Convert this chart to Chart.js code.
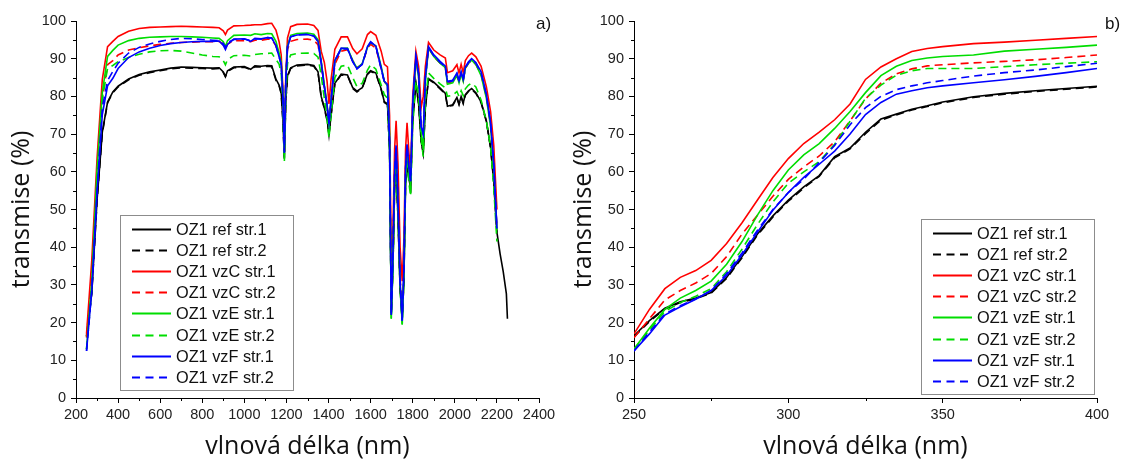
<!DOCTYPE html>
<html lang="cs">
<head>
<meta charset="UTF-8">
<title>Transmise OZ1</title>
<script src="https://cdn.jsdelivr.net/npm/chart.js"></script>
<style>
  html, body { margin: 0; padding: 0; background: #fff; }
  #wrap { position: relative; width: 1124px; height: 463px; overflow: hidden; }
  #wrap canvas { position: absolute; top: 0; }
</style>
</head>
<body>
<div id="wrap">
  <canvas id="chartA" width="562" height="463" style="left:0"></canvas>
  <canvas id="chartB" width="562" height="463" style="left:562px"></canvas>
</div>
<script>
// series labels and styles (same order for both panels)
const seriesNames = ['OZ1 ref str.1', 'OZ1 ref str.2', 'OZ1 vzC str.1', 'OZ1 vzC str.2',
                     'OZ1 vzE str.1', 'OZ1 vzE str.2', 'OZ1 vzF str.1', 'OZ1 vzF str.2'];
const seriesColors = ['#000000', '#000000', '#ff0000', '#ff0000', '#00dd00', '#00dd00', '#0000ff', '#0000ff'];
const seriesDashed = [false, true, false, true, false, true, false, true];

// ---- panel a) : 250-2250 nm ----
const wlA = [250, 275, 300, 325, 350, 375, 400, 450, 500, 550,
  600, 650, 700, 750, 800, 850, 880, 900, 910, 920,
  950, 1000, 1030, 1050, 1080, 1110, 1130, 1150, 1165, 1175,
  1183, 1190, 1197, 1205, 1220, 1250, 1300, 1330, 1350, 1365,
  1380, 1393, 1402, 1412, 1430, 1460, 1490, 1515, 1535, 1560,
  1585, 1600, 1625, 1650, 1665, 1680, 1690, 1698, 1706, 1714,
  1721, 1730, 1740, 1750, 1758, 1766, 1773, 1782, 1790, 1800,
  1815, 1828, 1840, 1850, 1860, 1875, 1900, 1930, 1955, 1965,
  1990, 2010, 2020, 2030, 2040, 2050, 2065, 2080, 2100, 2125,
  2150, 2170, 2185, 2200, 2215, 2230, 2245, 2250];

const refStr1A = [16.5, 28.0, 52.5, 70.5, 78.5, 81.2, 82.7, 84.6, 85.8, 86.5,
  87.0, 87.5, 87.8, 87.7, 87.6, 87.5, 87.6, 86.5, 85.3, 86.8,
  87.8, 87.9, 87.2, 88.1, 88.0, 88.2, 88.1, 84.6, 83.0, 81.0,
  74.0, 63.5, 79.0, 85.5, 87.6, 88.3, 88.5, 88.2, 86.5, 80.0,
  77.0, 74.0, 69.8, 75.0, 83.5, 85.9, 85.7, 82.3, 81.4, 82.3,
  86.0, 86.8, 86.2, 82.0, 78.6, 78.0, 66.0, 22.5, 35.0, 56.0,
  61.0, 48.0, 29.0, 21.0, 31.0, 57.0, 62.0, 58.0, 56.0, 74.0,
  83.5, 78.0, 68.0, 65.0, 77.0, 84.7, 83.8, 82.2, 80.8, 77.4,
  77.8, 79.7, 78.0, 80.0, 78.3, 80.5, 81.5, 82.1, 81.0, 78.5,
  73.5, 66.5, 57.5, 44.0, 38.3, 33.5, 27.6, 21.0];

const refStr2A = [16.3, 27.8, 52.2, 70.2, 78.3, 81.0, 82.5, 84.4, 85.6, 86.3,
  86.8, 87.3, 87.6, 87.5, 87.4, 87.3, 87.4, 86.3, 85.2, 86.6,
  87.6, 87.7, 87.1, 87.9, 87.8, 88.0, 87.9, 84.3, 82.8, 80.7,
  73.5, 63.8, 79.0, 85.2, 87.4, 88.1, 88.3, 88.0, 86.3, 79.8,
  76.8, 73.6, 70.0, 75.0, 83.3, 85.7, 85.5, 82.1, 81.2, 82.2,
  85.8, 86.6, 86.0, 81.8, 78.4, 77.8, 66.0, 22.0, 35.0, 56.0,
  61.0, 48.0, 29.0, 21.0, 31.0, 57.0, 62.0, 58.0, 56.0, 74.0,
  83.3, 78.0, 68.0, 65.0, 77.0, 84.5, 83.6, 82.0, 80.6, 77.3,
  77.6, 79.5, 77.8, 79.8, 78.1, 80.3, 81.3, 81.9, 80.8, 78.3,
  73.3, 66.3, 57.3, 43.8, null, null, null, null];

const vzCStr1A = [17.0, 36.5, 63.5, 84.5, 93.2, 94.6, 95.9, 97.3, 98.0, 98.3,
  98.4, 98.5, 98.6, 98.5, 98.4, 98.3, 98.2, 97.4, 96.4, 97.6,
  98.7, 98.8, 98.9, 99.0, 99.0, 99.3, 99.4, 97.6, 94.5, 91.0,
  82.0, 66.5, 86.0, 95.5, 98.5, 99.1, 99.2, 98.8, 97.5, 92.0,
  89.0, 84.0, 78.0, 84.5, 92.5, 95.8, 95.8, 92.7, 91.3, 92.6,
  96.4, 97.2, 96.2, 92.0, 88.5, 87.8, 75.0, 36.0, 45.0, 66.0,
  73.5, 62.0, 40.0, 31.0, 42.0, 66.0, 73.0, 65.0, 60.0, 80.0,
  92.0, 88.0, 77.0, 80.0, 88.0, 94.3, 92.3, 91.0, 90.2, 86.3,
  86.8, 88.4, 86.2, 88.5, 86.3, 89.5, 90.8, 91.5, 90.5, 88.0,
  82.5, 76.0, 67.0, 50.0, null, null, null, null];

const vzCStr2A = [16.0, 33.0, 58.0, 79.3, 88.4, 89.5, 91.0, 92.3, 92.9, 93.4,
  93.8, 94.1, 94.3, 94.4, 94.5, 94.5, 94.6, 93.8, 92.6, 93.9,
  94.8, 94.8, 94.5, 94.9, 94.9, 95.2, 95.1, 93.4, 91.0, 89.0,
  81.0, 65.5, 84.5, 92.5, 94.6, 95.1, 95.2, 94.9, 93.7, 88.6,
  82.5, 77.5, 73.0, 78.5, 88.5, 92.0, 92.4, 89.5, 87.6, 88.5,
  92.8, 93.8, 92.8, 87.5, 84.0, 82.8, 69.0, 30.0, 40.0, 60.0,
  67.0, 52.0, 32.0, 23.0, 35.0, 61.0, 67.0, 61.0, 57.5, 78.0,
  90.0, 85.0, 72.0, 70.0, 85.0, 92.8, 90.6, 88.8, 87.7, 83.5,
  83.8, 85.5, 83.8, 86.0, 84.2, 87.4, 88.8, 89.5, 88.5, 85.8,
  80.0, 72.5, 61.5, 45.0, null, null, null, null];

const vzEStr1A = [13.0, 31.0, 60.5, 81.0, 90.6, 92.2, 93.6, 94.8, 95.4, 95.7,
  95.8, 95.9, 95.9, 95.8, 95.7, 95.5, 95.4, 94.5, 93.2, 94.8,
  96.2, 96.3, 96.2, 96.6, 96.4, 96.7, 96.6, 94.6, 91.5, 89.0,
  80.5, 64.5, 84.5, 93.3, 96.2, 96.7, 96.8, 96.5, 95.0, 89.5,
  83.0, 78.0, 71.5, 79.0, 89.5, 92.7, 92.8, 89.5, 87.5, 88.7,
  93.0, 94.3, 93.4, 88.0, 84.0, 82.8, 70.0, 21.0, 35.0, 58.0,
  64.5, 50.0, 30.0, 19.5, 32.0, 58.0, 65.0, 60.0, 56.0, 77.0,
  90.0, 85.0, 70.5, 66.0, 84.0, 92.8, 90.6, 88.8, 87.6, 83.2,
  83.6, 85.6, 83.6, 86.0, 84.0, 87.5, 88.8, 89.6, 88.5, 85.5,
  79.5, 72.0, 61.0, 44.5, null, null, null, null];

const vzEStr2A = [13.0, 29.0, 57.0, 79.5, 87.4, 88.2, 89.2, 90.3, 91.2, 91.8,
  92.1, 92.2, 92.0, 91.5, 91.0, 90.6, 90.5, 89.5, 88.4, 89.8,
  90.8, 90.9, 90.7, 91.1, 91.3, 91.4, 91.5, 89.8, 88.6, 86.0,
  78.0, 62.5, 80.5, 88.7, 91.0, 91.4, 91.5, 91.4, 90.4, 85.6,
  79.5, 74.0, 69.0, 75.0, 85.0, 88.0, 88.3, 85.0, 82.6, 83.5,
  87.0, 88.4, 87.2, 83.0, 80.5, 79.5, 65.0, 21.0, 35.0, 56.0,
  63.0, 49.0, 29.0, 19.5, 32.0, 57.0, 63.0, 57.0, 53.5, 72.0,
  84.0, 80.0, 69.0, 64.0, 79.0, 86.2, 84.8, 83.3, 82.3, 80.0,
  80.3, 81.3, 80.0, 81.5, 80.2, 82.0, 83.0, 83.5, 82.5, 79.0,
  73.5, 66.5, 56.0, 41.5, null, null, null, null];

const vzFStr1A = [12.5, 28.5, 54.5, 75.2, 82.8, 84.8, 87.4, 90.3, 91.8, 92.8,
  93.5, 94.0, 94.3, 94.5, 94.6, 94.6, 94.7, 93.5, 92.4, 93.8,
  95.2, 95.3, 94.6, 95.4, 95.3, 95.6, 95.5, 93.5, 90.5, 88.5,
  80.0, 65.3, 84.5, 93.0, 95.8, 96.3, 96.4, 96.0, 94.6, 89.0,
  82.5, 77.5, 72.8, 79.0, 89.5, 92.8, 92.7, 89.2, 87.3, 88.5,
  93.2, 94.5, 93.3, 87.5, 84.0, 83.2, 68.0, 22.0, 38.0, 60.0,
  67.0, 52.0, 31.0, 20.5, 34.0, 61.0, 67.3, 61.0, 57.5, 78.0,
  90.5, 86.0, 72.0, 70.0, 85.0, 93.2, 91.0, 89.3, 88.0, 84.0,
  84.3, 86.2, 84.2, 86.5, 84.5, 87.8, 89.2, 90.0, 89.0, 86.5,
  80.5, 73.0, 62.0, 45.0, null, null, null, null];

const vzFStr2A = [12.5, 28.5, 54.5, 77.0, 84.2, 86.6, 88.8, 91.5, 93.0, 93.9,
  94.6, 95.1, 95.4, 95.3, 95.1, 94.9, 94.8, 94.0, 93.0, 94.3,
  95.1, 95.2, 94.8, 95.3, 95.2, 95.6, 95.5, 93.5, 90.5, 88.4,
  80.0, 65.0, 84.8, 93.3, 95.8, 96.3, 96.5, 96.0, 94.6, 89.0,
  82.6, 77.6, 73.0, 79.0, 89.3, 92.6, 92.6, 89.2, 87.3, 88.5,
  93.0, 94.4, 93.2, 87.3, 83.8, 83.0, 68.0, 22.0, 38.0, 60.0,
  67.0, 52.0, 31.0, 20.5, 34.0, 61.0, 67.0, 61.0, 57.5, 78.0,
  90.5, 86.0, 72.0, 70.0, 85.0, 93.0, 90.8, 89.0, 87.8, 83.8,
  84.1, 86.0, 84.0, 86.3, 84.3, 87.6, 89.0, 89.8, 88.8, 86.2,
  80.3, 72.8, 61.8, 45.0, null, null, null, null];

// ---- panel b) : detail 250-400 nm ----
const wlB = [250, 255, 260, 265, 270, 275, 280, 285, 290, 295,
  300, 305, 310, 315, 320, 325, 330, 335, 340, 345,
  350, 360, 370, 380, 390, 400];

const refStr1B = [16.5, 20.5, 23.8, 25.5, 26.5, 28.0, 32.0, 37.5, 43.5, 48.3,
  52.5, 56.0, 59.0, 64.0, 66.3, 70.5, 74.0, 75.3, 76.6, 77.5,
  78.5, 79.9, 80.8, 81.5, 82.1, 82.7];
const refStr2B = [16.2, 20.3, 23.6, 25.3, 26.3, 27.8, 31.7, 37.2, 43.2, 48.0,
  52.2, 55.7, 58.8, 63.7, 66.1, 70.1, 73.7, 75.1, 76.4, 77.3,
  78.3, 79.7, 80.6, 81.3, 81.9, 82.5];
const vzCStr1B = [17.0, 23.5, 29.0, 32.0, 33.8, 36.5, 41.0, 46.5, 52.5, 58.5,
  63.5, 67.5, 70.5, 73.8, 78.0, 84.5, 87.8, 90.0, 91.9, 92.7,
  93.2, 94.0, 94.4, 94.9, 95.4, 95.9];
const vzCStr2B = [16.0, 21.0, 26.0, 28.5, 30.5, 33.0, 37.5, 43.5, 48.5, 53.5,
  58.0, 61.3, 64.2, 68.0, 73.5, 79.3, 83.5, 86.0, 87.3, 88.1,
  88.4, 88.9, 89.3, 89.7, 90.3, 91.0];
const vzEStr1B = [13.0, 18.5, 23.5, 26.5, 28.5, 31.0, 35.5, 41.5, 48.5, 55.0,
  60.5, 64.5, 67.5, 71.5, 76.0, 81.0, 85.5, 88.0, 89.5, 90.2,
  90.6, 91.0, 92.0, 92.5, 93.0, 93.6];
const vzEStr2B = [13.0, 18.0, 23.0, 25.3, 27.0, 29.0, 33.5, 39.5, 46.0, 52.0,
  57.0, 60.0, 62.7, 67.3, 73.4, 79.5, 83.0, 85.6, 86.8, 87.4,
  87.4, 87.4, 87.9, 88.4, 88.8, 89.2];
const vzFStr1B = [12.5, 17.0, 22.0, 24.2, 26.2, 28.5, 32.5, 38.0, 44.0, 49.8,
  54.5, 58.5, 62.0, 65.5, 70.0, 75.2, 78.4, 80.6, 81.5, 82.3,
  82.8, 83.6, 84.4, 85.3, 86.3, 87.4];
const vzFStr2B = [12.5, 17.5, 22.3, 24.5, 26.3, 28.5, 33.0, 38.5, 44.5, 50.0,
  54.5, 58.0, 62.5, 67.0, 72.5, 77.0, 80.0, 81.8, 82.8, 83.6,
  84.2, 85.4, 86.3, 87.0, 87.9, 88.8];

const seriesA = [refStr1A, refStr2A, vzCStr1A, vzCStr2A, vzEStr1A, vzEStr2A, vzFStr1A, vzFStr2A];
const seriesB = [refStr1B, refStr2B, vzCStr1B, vzCStr2B, vzEStr1B, vzEStr2B, vzFStr1B, vzFStr2B];

const TICK_FONT = { family: '"Liberation Sans", Arial, sans-serif', size: 14.5 };
const TITLE_FONT = { family: '"Open Sans", sans-serif', size: 25 };

function buildDatasets(xs, series) {
  return series.map((vals, i) => ({
    label: seriesNames[i],
    data: xs.map((x, j) => ({ x: x, y: vals[j] })),
    borderColor: seriesColors[i],
    borderWidth: 1.6,
    borderDash: seriesDashed[i] ? [8, 5] : [],
    pointRadius: 0,
    tension: 0,
    fill: false,
    order: series.length - i   // later series drawn on top
  }));
}

// short unlabeled ticks between the major ones
const minorTicks = {
  id: 'minorTicks',
  afterDraw(chart, args, opts) {
    const { ctx } = chart;
    const sx = chart.scales.x, sy = chart.scales.y;
    ctx.save();
    ctx.strokeStyle = '#000';
    ctx.lineWidth = 1;
    ctx.beginPath();
    opts.x.forEach(v => {
      const px = Math.round(sx.getPixelForValue(v)) + 0.5;
      ctx.moveTo(px, sy.bottom);
      ctx.lineTo(px, sy.bottom + 3);
    });
    opts.y.forEach(v => {
      const py = Math.round(sy.getPixelForValue(v)) + 0.5;
      ctx.moveTo(sx.left, py);
      ctx.lineTo(sx.left - 3, py);
    });
    ctx.stroke();
    ctx.restore();
  }
};

// framed legend inside the plot, solid/dashed samples
const boxLegend = {
  id: 'boxLegend',
  afterDraw(chart, args, opts) {
    const { ctx } = chart;
    ctx.save();
    ctx.strokeStyle = '#8c8c8c';
    ctx.lineWidth = 1;
    ctx.strokeRect(opts.left + 0.5, opts.top + 0.5, opts.width, opts.height);
    ctx.font = '16.3px "Liberation Sans", Arial, sans-serif';
    ctx.textBaseline = 'middle';
    ctx.textAlign = 'left';
    chart.data.datasets.forEach((ds, i) => {
      const yy = Math.round(opts.top + opts.firstRow + i * opts.rowGap) + 0.5;
      ctx.strokeStyle = ds.borderColor;
      ctx.lineWidth = 2;
      ctx.setLineDash(seriesDashed[i] ? [8, 5.5] : []);
      ctx.beginPath();
      ctx.moveTo(opts.left + 12, yy);
      ctx.lineTo(opts.left + 51, yy);
      ctx.stroke();
      ctx.setLineDash([]);
      ctx.fillStyle = '#111';
      ctx.fillText(ds.label, opts.left + 56, yy + 1);
    });
    ctx.restore();
  }
};

const panelTag = {
  id: 'panelTag',
  afterDraw(chart, args, opts) {
    const { ctx } = chart;
    ctx.save();
    ctx.font = '17px "Liberation Sans", Arial, sans-serif';
    ctx.fillStyle = '#111';
    ctx.textBaseline = 'middle';
    ctx.fillText(opts.text, opts.x, opts.y);
    ctx.restore();
  }
};

function makeChart(canvasId, xs, series, cfg) {
  return new Chart(document.getElementById(canvasId), {
    type: 'line',
    data: { datasets: buildDatasets(xs, series) },
    plugins: [minorTicks, boxLegend, panelTag],
    options: {
      responsive: false,
      animation: false,
      events: [],
      layout: { padding: { left: 0, right: cfg.padRight, top: 21, bottom: 0 } },
      plugins: {
        legend: { display: false },
        tooltip: { enabled: false },
        minorTicks: { x: cfg.minorX, y: cfg.minorY },
        boxLegend: cfg.legend,
        panelTag: cfg.tag
      },
      scales: {
        x: {
          type: 'linear',
          min: cfg.xMin, max: cfg.xMax,
          afterFit: s => { s.height = 65; },
          border: { color: '#000', width: 1 },
          grid: { drawOnChartArea: false, tickLength: 5, color: '#000' },
          ticks: { stepSize: cfg.xStep, font: TICK_FONT, color: '#222', padding: 3,
                   maxRotation: 0, autoSkip: false, callback: v => String(v) },
          title: { display: true, text: 'vlnová délka (nm)', font: TITLE_FONT, color: '#111', padding: { top: 0, bottom: 1 } }
        },
        y: {
          min: 0, max: 100,
          afterFit: s => { s.width = cfg.yWidth; },
          border: { color: '#000', width: 1 },
          grid: { drawOnChartArea: false, tickLength: 5, color: '#000' },
          ticks: { stepSize: 10, font: TICK_FONT, color: '#222', padding: 5 },
          title: { display: true, text: 'transmise (%)', font: TITLE_FONT, color: '#111', padding: { top: 7, bottom: 0 } }
        }
      }
    }
  });
}

const minorY = [];
for (let v = 5; v < 100; v += 10) minorY.push(v);
const minorXA = [];
for (let v = 300; v < 2400; v += 200) minorXA.push(v);
const minorXB = [275, 325, 375];

makeChart('chartA', wlA, seriesA, {
  xMin: 200, xMax: 2400, xStep: 200, yWidth: 76, padRight: 23,
  minorX: minorXA, minorY: minorY,
  legend: { left: 120, top: 215, width: 173, height: 175, firstRow: 14, rowGap: 21.1 },
  tag: { text: 'a)', x: 536, y: 24 }
});

makeChart('chartB', wlB, seriesB, {
  xMin: 250, xMax: 400, xStep: 50, yWidth: 72, padRight: 27,
  minorX: minorXB, minorY: minorY,
  legend: { left: 359, top: 219, width: 173, height: 175, firstRow: 14, rowGap: 21.1 },
  tag: { text: 'b)', x: 543, y: 24 }
});
</script>
</body>
</html>
